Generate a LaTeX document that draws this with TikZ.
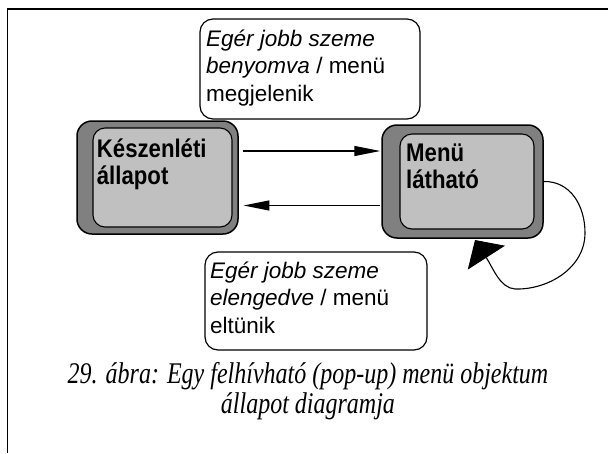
\documentclass[tikz,border=0pt]{standalone}
\usepackage{fontspec}
\setmainfont{Liberation Serif}
\newfontfamily\guardfont{Liberation Sans}
\newfontfamily\statefont[FakeStretch=0.87]{Liberation Sans}
\newfontfamily\captionfont[FakeStretch=0.8]{Liberation Serif}
\usetikzlibrary{arrows.meta}
\definecolor{stateouter}{HTML}{808080}
\definecolor{stateinner}{HTML}{C0C0C0}
\tikzset{
  stateframe/.style={draw=black, fill=stateouter, line width=1.5pt,
    rounded corners=15pt, minimum width=161pt, minimum height=113pt, inner sep=0pt},
  statecore/.style={draw=black, fill=stateinner, line width=1.1pt,
    rounded corners=12pt, inner sep=0pt},
  statename/.style={anchor=north west, inner sep=0pt, align=left,
    font=\statefont\bfseries\fontsize{25.5}{27.3}\selectfont},
  guardbox/.style={draw=black, fill=white, line width=1.2pt,
    rounded corners=13pt, inner sep=0pt},
  guardtext/.style={anchor=north west, inner sep=0pt, align=left,
    font=\guardfont\fontsize{22.5}{27.5}\selectfont},
  transition/.style={line width=1.1pt, -{Triangle[length=26pt,width=10pt]}},
  selfloop/.style={line width=1.1pt, -{Triangle[length=21pt,width=44pt]}},
  figcaption/.style={anchor=north, inner sep=0pt, align=center,
    font=\captionfont\itshape\fontsize{30}{30}\selectfont},
  frameline/.style={line width=1.8pt}
}
\begin{document}
\begin{tikzpicture}[x=1pt, y=-1pt]
  \useasboundingbox (0,0) rectangle (608,453);

  % page frame (top and left edges)
  \coordinate (fbl) at (7.5,453);
  \coordinate (ftl) at (7.5,9);
  \coordinate (ftr) at (608,9);
  \draw[frameline] (fbl) -- (ftl) -- (ftr);

  % guard/action boxes
  \node[guardbox, minimum width=220pt, minimum height=100pt] (showbox) at (310,69) {};
  \node[guardtext] (showtext) at (206,29.5)
    {\textit{Egér jobb szeme}\\\textit{benyomva} / menü\\megjelenik};
  \node[guardbox, minimum width=222pt, minimum height=98pt] (hidebox) at (316,301) {};
  \node[guardtext] (hidetext) at (210,261.5)
    {\textit{Egér jobb szeme}\\\textit{elengedve} / menü\\eltünik};

  % states
  \node[stateframe] (idle) at (157.5,177.5) {};
  \node[statecore, minimum width=139pt, minimum height=99pt] (idlecore) at (162.5,177.5) {};
  \node[statename] (idlename) at (96.7,138.5) {Készenléti\\állapot};

  \node[stateframe] (menu) at (462.5,181.5) {};
  \node[statecore, minimum width=134pt, minimum height=95pt] (menucore) at (467,181.5) {};
  \node[statename] (menuname) at (406,143.5) {Menü\\látható};

  % transitions between the states
  \coordinate (upper) at (0,151);
  \coordinate (lower) at (0,205.5);
  \coordinate (idleport) at ([xshift=4.7pt]idle.east);
  \coordinate (menuport) at ([xshift=-1pt]menu.west);
  \draw[transition] (idleport |- upper) -- (menuport |- upper);
  \draw[transition] (menuport |- lower) -- (idleport |- lower);

  % self transition on the menu state
  \coordinate (looptip) at (475,240);
  \draw[selfloop] (menu.east) .. controls (570,181) and (585,205) .. (585,233)
    .. controls (585,268) and (548,290) .. (515,289)
    .. controls (500,288) and (493,268) .. (looptip);

  % caption
  \node[figcaption] (cap) at (308,362)
    {29. ábra: Egy felhívható (pop-up) menü objektum\\állapot diagramja};
\end{tikzpicture}
\end{document}
